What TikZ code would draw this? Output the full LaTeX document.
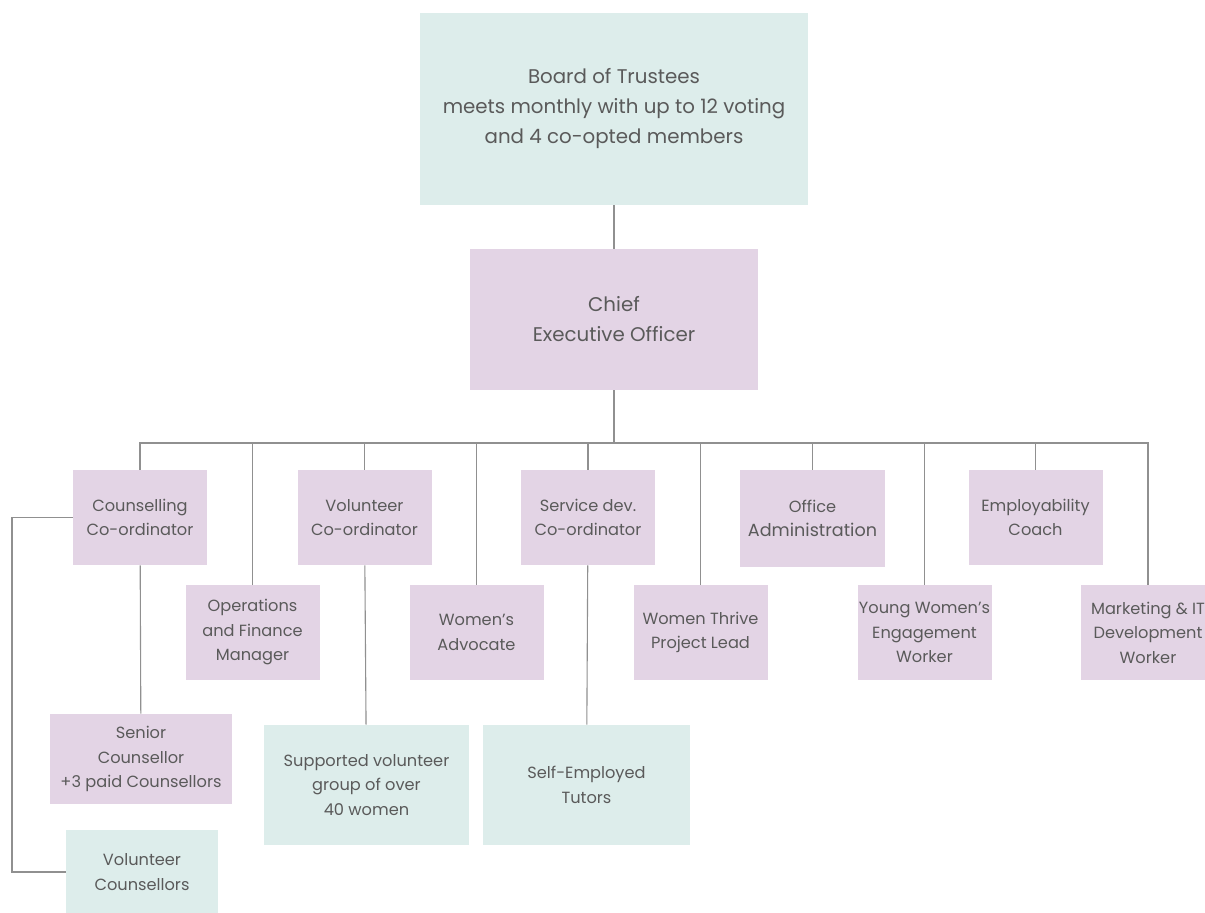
\documentclass[tikz,border=0pt]{standalone}
\usepackage{fontspec}
\setmainfont{Poppins}
\usepackage{tikz}
\definecolor{lilac}{HTML}{E3D4E5}
\definecolor{mint}{HTML}{DDEDEB}
\definecolor{ink}{HTML}{5A5A5A}
\definecolor{wire}{HTML}{909090}

\begin{document}
\begin{tikzpicture}[x=0.5pt, y=-0.5pt,
  every node/.style = {align=center, text=ink, inner sep=0pt},
  role/.style = {fill=lilac, minimum width=67pt, minimum height=47.5pt,
    font=\fontsize{8.1}{12.25}\selectfont},
  group/.style = {fill=mint, font=\fontsize{8.1}{12.25}\selectfont},
  link/.style = {draw=wire, line width=0.55pt}]
  \clip (0,0) rectangle (1205,912);
  \fill[white] (0,0) rectangle (1205,912);
  % top of the chart
  \node[group, minimum width=194pt, minimum height=96pt,
    font=\fontsize{9.9}{15}\selectfont] (board) at (614,109)
    {Board of Trustees\\meets monthly with up to 12 voting\\and 4 co-opted members};
  \node[role, minimum width=144pt, minimum height=70.5pt,
    font=\fontsize{9.9}{15}\selectfont] (ceo) at (614,319.5)
    {Chief\\Executive Officer};
  % first row
  \node[role] (counsel) at (140,517.5) {Counselling\\Co-ordinator};
  \node[role] (volco) at (364.5,517.5) {Volunteer\\Co-ordinator};
  \node[role] (servco) at (588,517.5) {Service dev.\\Co-ordinator};
  \node[role, minimum width=72.5pt, minimum height=48.5pt] (office) at (812.5,518.5)
    {Office\\{\fontsize{8.8}{12.25}\selectfont Administration}};
  \node[role] (employ) at (1035.5,517.5) {Employability\\Coach};
  % second row
  \node[role] (ops) at (252.5,632.5) {Operations\\and Finance\\Manager};
  \node[role] (advocate) at (476.5,632.5) {Women's\\Advocate};
  \node[role] (thrive) at (700.5,632.5) {Women Thrive\\Project Lead};
  \node[role] (young) at (924.5,632.5) {Young Women's\\Engagement\\Worker};
  \node[role] (market) at (1148,632.5) {Marketing \& IT\\Development\\Worker};
  % teams below the co-ordinators
  \node[role, minimum width=91pt, minimum height=45pt] (senior) at (141,759)
    {Senior\\Counsellor\\+3 paid Counsellors};
  \node[group, minimum width=102.5pt, minimum height=60pt] (supported) at (366.5,785)
    {Supported volunteer\\group of over\\40 women};
  \node[group, minimum width=103.5pt, minimum height=60pt] (tutors) at (586.5,785)
    {Self-Employed\\Tutors};
  \node[group, minimum width=76pt, minimum height=42pt] (volcoun) at (142,872)
    {Volunteer\\Counsellors};
  % connectors
  \coordinate (bus) at (614,443);
  \coordinate (loop) at (12,517.5);
  \path[link] (board) -- (ceo);
  \foreach \n in {counsel,ops,volco,advocate,servco,thrive,office,young,employ,market}
    \path[link] (ceo.south) -- (bus) -| (\n.north);
  \path[link] (counsel) -- (senior);
  \path[link] (volco) -- (supported);
  \path[link] (servco) -- (tutors);
  \path[link] (counsel.west) -- (loop) |- (volcoun.west);
\end{tikzpicture}
\end{document}
